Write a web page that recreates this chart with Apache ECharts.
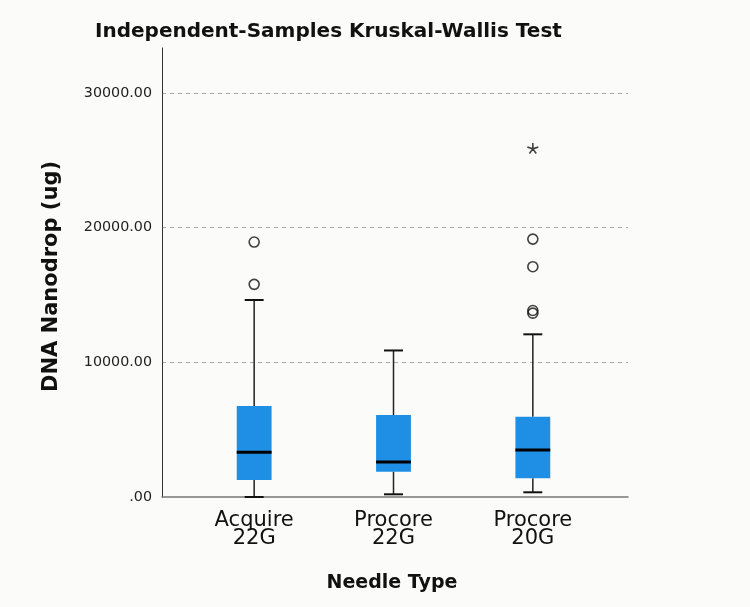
<!DOCTYPE html>
<html><head><meta charset="utf-8">
<script src="https://cdn.jsdelivr.net/npm/echarts@6/dist/echarts.min.js"></script>
<style>html,body{margin:0;padding:0;background:#fbfbf9}#c{width:750px;height:607px}</style>
</head><body><div id="c"></div>
<script>
var categories = ['Acquire\n22G', 'Procore\n22G', 'Procore\n20G'];
var whiskerLow = [0, 200, 350];
var q1 = [1260, 1880, 1390];
var median = [3320, 2600, 3490];
var q3 = [6760, 6090, 5960];
var whiskerHigh = [14630, 10880, 12080];
var outlierCat = [0, 0, 2, 2, 2, 2];
var outlierVal = [18930, 15790, 19150, 17100, 13850, 13650];
var extremeCat = [2];
var extremeVal = [25890];
var yTicks = [0, 10000, 20000, 30000];
var yMax = 33340;

var boxData = categories.map(function (c, i) {
  return [i, whiskerLow[i], q1[i], median[i], q3[i], whiskerHigh[i]];
});
var outData = outlierCat.map(function (c, i) { return [c, outlierVal[i]]; });
var extData = extremeCat.map(function (c, i) { return [c, extremeVal[i]]; });

var chart = echarts.init(document.getElementById('c'));
var font = 'DejaVu Sans';
chart.setOption({
  backgroundColor: '#fbfbf9',
  animation: false,
  title: {
    text: 'Independent-Samples Kruskal-Wallis Test',
    left: 90, top: 17,
    textStyle: { fontFamily: font, fontWeight: 'bold', fontSize: 20, color: '#111' }
  },
  grid: [
    { left: 162, right: 122, top: 48, bottom: 110 },
    { left: 184.5, right: 147.5, top: 48, bottom: 110 }
  ],
  xAxis: [
    { gridIndex: 0, type: 'value', min: 0, max: 1,
      axisLine: { show: true, onZero: false, lineStyle: { color: '#777', width: 1.5 } },
      axisTick: { show: false }, axisLabel: { show: false }, splitLine: { show: false },
      name: 'Needle Type', nameLocation: 'middle', nameGap: 77,
      nameTextStyle: { fontFamily: font, fontWeight: 'bold', fontSize: 19, color: '#111', padding: [0, 6, 0, 0] }
    },
    { gridIndex: 1, type: 'category', data: categories,
      axisLine: { show: false }, axisTick: { show: false },
      axisLabel: { fontFamily: font, fontSize: 21, lineHeight: 18, color: '#111', margin: 15 }
    }
  ],
  yAxis: [
    { gridIndex: 0, type: 'value', min: 0, max: yMax, interval: 10000,
      axisLine: { show: true, lineStyle: { color: '#333', width: 1 } },
      axisTick: { show: false },
      axisLabel: { fontFamily: font, fontSize: 14.3, color: '#222', margin: 10, showMaxLabel: false,
        formatter: function (v) { return yTicks.indexOf(v) < 0 ? '' : (v === 0 ? '.00' : v.toFixed(2)); } },
      splitLine: { show: true, showMaxLine: false, showMinLine: false, lineStyle: { type: [4, 4], color: '#aaa', width: 1 } },
      name: 'DNA Nanodrop (ug)', nameLocation: 'middle', nameGap: 100,
      nameTextStyle: { fontFamily: font, fontWeight: 'bold', fontSize: 21, color: '#111', padding: [0, 8, 0, 0] }
    },
    { gridIndex: 1, type: 'value', min: 0, max: yMax, show: false }
  ],
  series: [
    { type: 'custom', xAxisIndex: 1, yAxisIndex: 1, data: boxData,
      renderItem: function (params, api) {
        var x = api.value(0);
        var band = api.size([1, 0])[0];
        var hw = band * 0.125, cw = band * 0.068;
        var pLow = api.coord([x, api.value(1)]);
        var pQ1 = api.coord([x, api.value(2)]);
        var pMed = api.coord([x, api.value(3)]);
        var pQ3 = api.coord([x, api.value(4)]);
        var pHigh = api.coord([x, api.value(5)]);
        var cx = pMed[0];
        var ls = { stroke: '#222', lineWidth: 1.5 };
        return { type: 'group', children: [
          { type: 'line', shape: { x1: cx, y1: pQ3[1], x2: cx, y2: pHigh[1] }, style: ls },
          { type: 'line', shape: { x1: cx, y1: pQ1[1], x2: cx, y2: pLow[1] }, style: ls },
          { type: 'line', shape: { x1: cx - cw, y1: pHigh[1], x2: cx + cw, y2: pHigh[1] }, style: { stroke: '#111', lineWidth: 2 } },
          { type: 'line', shape: { x1: cx - cw, y1: pLow[1], x2: cx + cw, y2: pLow[1] }, style: { stroke: '#111', lineWidth: 2 } },
          { type: 'rect', shape: { x: cx - hw, y: pQ3[1], width: hw * 2, height: pQ1[1] - pQ3[1] }, style: { fill: '#1F8FE6' } },
          { type: 'line', shape: { x1: cx - hw, y1: pMed[1], x2: cx + hw, y2: pMed[1] }, style: { stroke: '#000', lineWidth: 3 } }
        ] };
      }
    },
    { type: 'scatter', xAxisIndex: 1, yAxisIndex: 1, data: outData,
      symbol: 'circle', symbolSize: 10,
      itemStyle: { color: 'rgba(0,0,0,0)', borderColor: '#111', borderWidth: 1.6 }
    },
    { type: 'scatter', xAxisIndex: 1, yAxisIndex: 1, data: extData,
      symbol: 'path://M0,0L0,-5M0,0L4.76,-1.55M0,0L2.94,4.05M0,0L-2.94,4.05M0,0L-4.76,-1.55',
      symbolSize: 11, symbolKeepAspect: true,
      itemStyle: { color: 'none', borderColor: '#111', borderWidth: 1.6 }
    }
  ]
});
</script></body></html>
